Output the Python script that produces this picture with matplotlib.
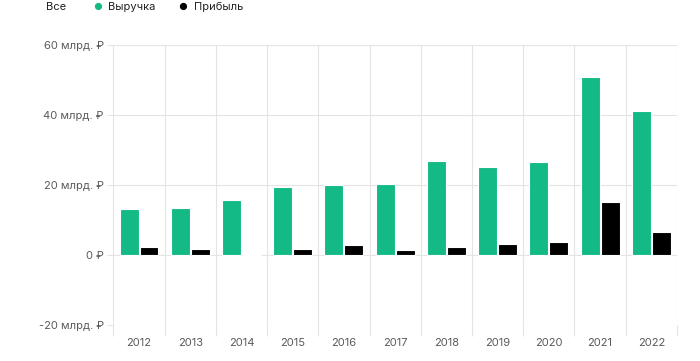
import numpy as np
import matplotlib.pyplot as plt

plt.rcParams['font.family'] = ['Inter', 'DejaVu Sans']

years = ['2012', '2013', '2014', '2015', '2016', '2017', '2018', '2019', '2020', '2021', '2022']
revenue = [13.0, 13.4, 15.7, 19.4, 20.0, 20.1, 26.8, 25.1, 26.4, 50.8, 41.0]
profit = [2.3, 1.6, -0.2, 1.7, 2.9, 1.5, 2.3, 3.0, 3.8, 15.0, 6.6]
yticks = [-20, 0, 20, 40, 60]
ytick_labels = ['-20 млрд. ₽', '0 ₽', '20 млрд. ₽', '40 млрд. ₽', '60 млрд. ₽']

green = '#13BA86'
grid_c = '#e4e4e4'
text_c = '#5a5a5a'

fig = plt.figure(figsize=(7, 3.61), dpi=100)
ax = fig.add_axes([0.162, 0.0997, 0.805, 0.7765])

x = np.arange(len(years))
w = 0.37
ax.bar(x - 0.195, revenue, w, color=green, edgecolor='white', linewidth=0.8, zorder=3)
ax.bar(x + 0.195, profit, w, color='black', edgecolor='white', linewidth=0.8, zorder=3)

ax.set_xlim(-0.5, len(years) - 0.5)
ax.set_ylim(-20, 60)
ax.set_yticks(yticks)
ax.set_yticklabels(ytick_labels)
ax.set_xticks(x)
ax.set_xticklabels(years)
ax.set_xticks(np.arange(-0.5, len(years)), minor=True)

for s in ax.spines.values():
    s.set_visible(False)
ax.grid(axis='y', color=grid_c, linewidth=0.8, zorder=0)
ax.grid(axis='x', which='minor', color=grid_c, linewidth=0.8, zorder=0)
ax.tick_params(axis='x', which='major', length=0, pad=9, labelsize=8, labelcolor=text_c)
ax.tick_params(axis='x', which='minor', length=8, color=grid_c, width=0.8)
ax.tick_params(axis='y', length=4, color=grid_c, width=0.8, pad=3, labelsize=8, labelcolor=text_c)

# filter buttons on top
fig.text(56 / 700, 1 - 7 / 361, 'Все', fontsize=8, color='#222222', ha='center', va='center')
fig.text(98 / 700, 1 - 7 / 361, '●', fontsize=7, color=green, ha='center', va='center')
fig.text(108 / 700, 1 - 7 / 361, 'Выручка', fontsize=8, color='#222222', ha='left', va='center')
fig.text(183 / 700, 1 - 7 / 361, '●', fontsize=7, color='black', ha='center', va='center')
fig.text(194 / 700, 1 - 7 / 361, 'Прибыль', fontsize=8, color='#222222', ha='left', va='center')

fig.savefig('out.png', dpi=100)
